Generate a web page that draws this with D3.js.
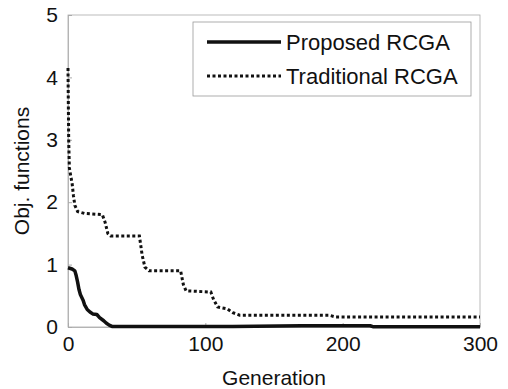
<!DOCTYPE html>
<html>
<head>
<meta charset="utf-8">
<script src="https://cdn.jsdelivr.net/npm/d3@7"></script>
<style>
  body { margin: 0; background: #fff; }
  text { font-family: "Liberation Sans", Arial, sans-serif; fill: #111; }
</style>
</head>
<body>
<div id="chart"></div>
<script>
// data: [generation, objective]
const proposedRCGA = [
  [0, 0.95], [3, 0.93], [5, 0.9], [6, 0.82], [7, 0.72], [8, 0.6], [9, 0.52],
  [11, 0.43], [12, 0.36], [14, 0.28], [16, 0.24], [18, 0.21], [21, 0.2],
  [23, 0.15], [26, 0.1], [28, 0.06], [30, 0.03], [32, 0.01], [120, 0.01],
  [170, 0.02], [220, 0.02], [222, 0.005], [300, 0.005]
];
const traditionalRCGA = [
  [0, 4.15], [0.5, 3.0], [1, 2.55], [2, 2.42], [3, 2.3], [4, 2.1], [5, 1.95],
  [7, 1.85], [12, 1.82], [25, 1.8], [27, 1.68], [29, 1.5], [31, 1.46],
  [52, 1.46], [54, 1.15], [56, 0.96], [59, 0.9], [82, 0.9], [84, 0.68],
  [86, 0.58], [104, 0.56], [106, 0.44], [109, 0.32], [116, 0.29], [120, 0.23],
  [125, 0.19], [190, 0.19], [195, 0.16], [300, 0.16]
];
const seriesNames = ["Proposed RCGA", "Traditional RCGA"];
const xTicks = [0, 100, 200, 300];
const yTicks = [0, 1, 2, 3, 4, 5];

const width = 508, height = 389;
const margin = { left: 68, right: 28, top: 15, bottom: 62 };

const svg = d3.select("#chart").append("svg")
  .attr("width", width)
  .attr("height", height);

const x = d3.scaleLinear().domain([0, 300]).range([margin.left, width - margin.right]);
const y = d3.scaleLinear().domain([0, 5]).range([height - margin.bottom, margin.top]);

// plot frame
svg.append("rect")
  .attr("x", x(0)).attr("y", y(5))
  .attr("width", x(300) - x(0)).attr("height", y(0) - y(5))
  .attr("fill", "none").attr("stroke", "#aaa").attr("stroke-width", 0.8);

// axes with inward ticks
const fmt = d3.format("d");
const xAxis = svg.append("g")
  .attr("transform", `translate(0,${y(0)})`)
  .call(d3.axisBottom(x).tickValues(xTicks).tickFormat(fmt).tickSizeInner(-4).tickSizeOuter(0).tickPadding(9));
const yAxis = svg.append("g")
  .attr("transform", `translate(${x(0)},0)`)
  .call(d3.axisLeft(y).tickValues(yTicks).tickFormat(fmt).tickSizeInner(-4).tickSizeOuter(0).tickPadding(10));

[xAxis, yAxis].forEach(a => {
  a.select(".domain").attr("stroke", "#aaa").attr("stroke-width", 0.8);
  a.selectAll(".tick line").attr("stroke", "#aaa");
  a.selectAll(".tick text")
    .style("font-family", "'Liberation Sans', Arial, sans-serif")
    .style("font-size", "21px")
    .attr("fill", "#111");
});

// axis titles
svg.append("text")
  .attr("x", (x(0) + x(300)) / 2)
  .attr("y", 385)
  .attr("text-anchor", "middle")
  .style("font-size", "21px")
  .text("Generation");

svg.append("text")
  .attr("transform", `translate(29,${(y(0) + y(5)) / 2}) rotate(-90)`)
  .attr("text-anchor", "middle")
  .style("font-size", "21px")
  .text("Obj. functions");

const line = d3.line().x(d => x(d[0])).y(d => y(d[1]));

svg.append("path")
  .datum(traditionalRCGA)
  .attr("d", line)
  .attr("fill", "none")
  .attr("stroke", "#111")
  .attr("stroke-width", 3)
  .attr("stroke-dasharray", "3,2.5");

svg.append("path")
  .datum(proposedRCGA)
  .attr("d", line)
  .attr("fill", "none")
  .attr("stroke", "#111")
  .attr("stroke-width", 3.5)
  .attr("stroke-linejoin", "round");

// legend
const legend = svg.append("g");
legend.append("rect")
  .attr("x", 193).attr("y", 22)
  .attr("width", 278).attr("height", 74)
  .attr("fill", "#fff").attr("stroke", "#999").attr("stroke-width", 0.8);

seriesNames.forEach((name, i) => {
  const ly = 42 + i * 34;
  legend.append("line")
    .attr("x1", 207).attr("x2", 281)
    .attr("y1", ly).attr("y2", ly)
    .attr("stroke", "#111")
    .attr("stroke-width", i === 0 ? 3.5 : 3)
    .attr("stroke-dasharray", i === 0 ? null : "3,2.5");
  legend.append("text")
    .attr("x", 286).attr("y", ly + 8)
    .style("font-size", "22px")
    .text(name);
});
</script>
</body>
</html>
